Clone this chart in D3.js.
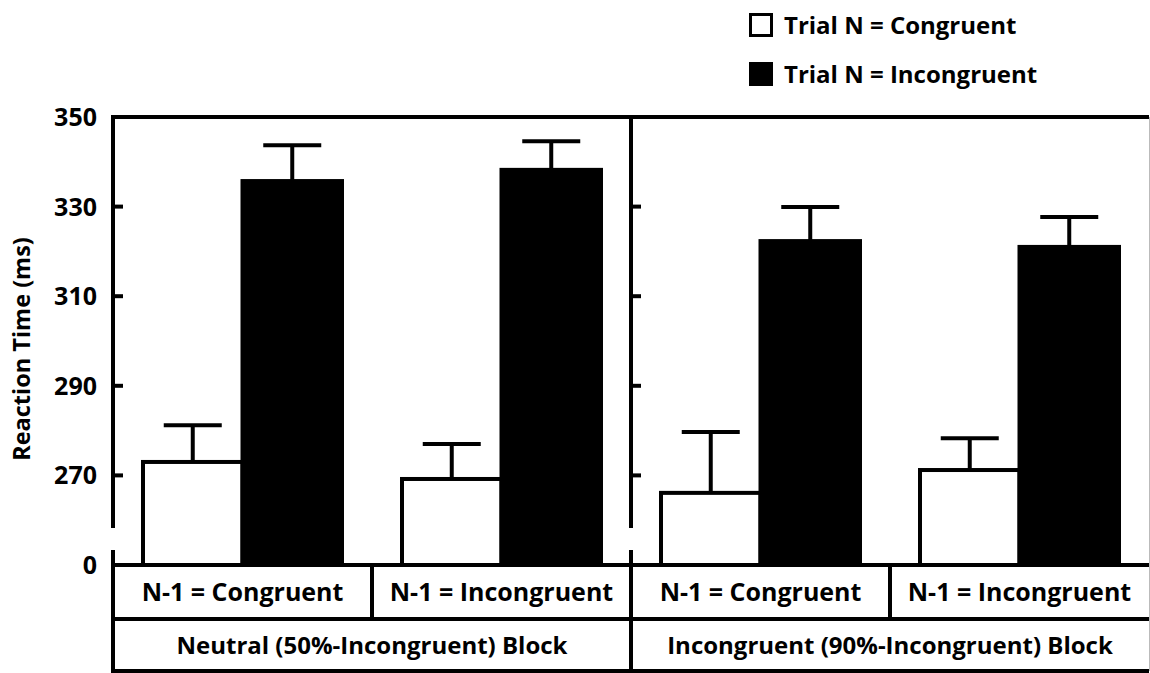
<!DOCTYPE html>
<html>
<head>
<meta charset="utf-8">
<script src="https://cdn.jsdelivr.net/npm/d3@7"></script>
<style>
  body { margin: 0; background: #fff; }
  svg text { font-family: "Open Sans", Lato, sans-serif; font-weight: 700; fill: #000; }
</style>
</head>
<body>
<svg id="chart" width="1150" height="673"></svg>
<script>
// data
var columns = ["N-1 = Congruent", "N-1 = Incongruent", "N-1 = Congruent", "N-1 = Incongruent"];
var blocks = ["Neutral (50%-Incongruent) Block", "Incongruent (90%-Incongruent) Block"];
var series = ["Trial N = Congruent", "Trial N = Incongruent"];
var congruentRT = [273.0, 269.2, 266.1, 271.2];
var congruentSE = [8.2, 7.8, 13.6, 7.1];
var incongruentRT = [335.7, 338.2, 322.3, 321.0];
var incongruentSE = [8.0, 6.4, 7.6, 6.7];
var tickValues = [250, 270, 290, 310, 330, 350];
var tickLabels = ["0", "270", "290", "310", "330", "350"];

var svg = d3.select("#chart"),
    plotLeft = 113, plotRight = 1149, plotTop = 117, base = 565,
    row1 = 619, row2 = 671;

var y = d3.scaleLinear()
    .domain([250, 350])
    .range([base, plotTop]);

var x = d3.scaleBand()
    .domain(d3.range(columns.length))
    .range([plotLeft, plotRight]);

var xb = d3.scaleBand()
    .domain(d3.range(blocks.length))
    .range([plotLeft, plotRight]);

var inner = d3.scaleBand()
    .domain([0, 1])
    .range([30, x.bandwidth() - 30]);

var data = columns.map(function(c, i) {
  return [
    {col: i, s: 0, v: congruentRT[i], e: congruentSE[i]},
    {col: i, s: 1, v: incongruentRT[i], e: incongruentSE[i]}
  ];
}).flat();

var breakTop = 528, breakBottom = 550;

// bars
var bar = svg.append("g").selectAll("g")
  .data(data)
  .enter().append("g");

var cx = function(d) { return x(d.col) + inner(d.s) + inner.bandwidth() / 2; };

bar.append("line")
    .attr("x1", cx)
    .attr("x2", cx)
    .attr("y1", function(d) { return y(d.v); })
    .attr("y2", function(d) { return y(d.v + d.e); })
    .attr("stroke", "#000").attr("stroke-width", 4);

bar.append("line")
    .attr("x1", function(d) { return cx(d) - 29; })
    .attr("x2", function(d) { return cx(d) + 29; })
    .attr("y1", function(d) { return y(d.v + d.e); })
    .attr("y2", function(d) { return y(d.v + d.e); })
    .attr("stroke", "#000").attr("stroke-width", 4);

bar.append("rect")
    .attr("x", function(d) { return x(d.col) + inner(d.s); })
    .attr("width", inner.bandwidth())
    .attr("y", function(d) { return y(d.v); })
    .attr("height", function(d) { return base - y(d.v); })
    .attr("fill", function(d) { return d.s ? "#000" : "#fff"; })
    .attr("stroke", "#000").attr("stroke-width", 4);

// frame
var frame = svg.append("g").attr("stroke", "#000").attr("stroke-width", 4).attr("fill", "none");
frame.append("line").attr("x1", plotLeft - 2).attr("x2", plotRight).attr("y1", plotTop).attr("y2", plotTop);
[plotLeft, xb(1)].forEach(function(px) {
  frame.append("line").attr("x1", px).attr("x2", px).attr("y1", plotTop - 2).attr("y2", breakTop);
  frame.append("line").attr("x1", px).attr("x2", px).attr("y1", breakBottom).attr("y2", row2 + 2);
});
[base, row1, row2].forEach(function(py) {
  frame.append("line").attr("x1", plotLeft - 2).attr("x2", plotRight).attr("y1", py).attr("y2", py);
});
[x(1), x(3)].forEach(function(px) {
  frame.append("line").attr("x1", px).attr("x2", px).attr("y1", base).attr("y2", row1);
});
svg.append("line").attr("x1", plotRight + 0.5).attr("x2", plotRight + 0.5).attr("y1", plotTop).attr("y2", row2)
    .attr("stroke", "#bbb").attr("stroke-width", 1);

// ticks on the left axis and the divider
var inTicks = tickValues.slice(1, -1);
[plotLeft, xb(1)].forEach(function(px) {
  frame.selectAll(null).data(inTicks).enter().append("line")
      .attr("x1", px).attr("x2", px + 10)
      .attr("y1", function(d) { return y(d); })
      .attr("y2", function(d) { return y(d); });
});

svg.append("g").selectAll("text")
  .data(tickValues)
  .enter().append("text")
    .attr("x", 97)
    .attr("y", function(d) { return y(d); })
    .attr("dy", "0.36em")
    .attr("text-anchor", "end")
    .style("font-size", "25px")
    .text(function(d, i) { return tickLabels[i]; });

svg.append("text")
    .attr("transform", "translate(30," + 349 + ") rotate(-90)")
    .attr("text-anchor", "middle")
    .style("font-size", "23.5px")
    .text("Reaction Time (ms)");

// category table
svg.append("g").selectAll("text")
  .data(columns)
  .enter().append("text")
    .attr("x", function(d, i) { return x(i) + x.bandwidth() / 2; })
    .attr("y", (base + row1) / 2)
    .attr("dy", "0.36em")
    .attr("text-anchor", "middle")
    .style("font-size", "25px")
    .text(function(d) { return d; });

svg.append("g").selectAll("text")
  .data(blocks)
  .enter().append("text")
    .attr("x", function(d, i) { return xb(i) + xb.bandwidth() / 2; })
    .attr("y", (row1 + row2) / 2)
    .attr("dy", "0.36em")
    .attr("text-anchor", "middle")
    .style("font-size", "24px")
    .text(function(d) { return d; });

// legend
var legend = svg.append("g").selectAll("g")
  .data(series)
  .enter().append("g")
    .attr("transform", function(d, i) { return "translate(749," + (13 + i * 49) + ")"; });

legend.append("rect")
    .attr("x", 1.5).attr("y", 1.5)
    .attr("width", 21).attr("height", 21)
    .attr("fill", function(d, i) { return i ? "#000" : "#fff"; })
    .attr("stroke", "#000").attr("stroke-width", 3);

legend.append("text")
    .attr("x", 35)
    .attr("y", 12)
    .attr("dy", "0.36em")
    .style("font-size", "24px")
    .text(function(d) { return d; });
</script>
</body>
</html>
